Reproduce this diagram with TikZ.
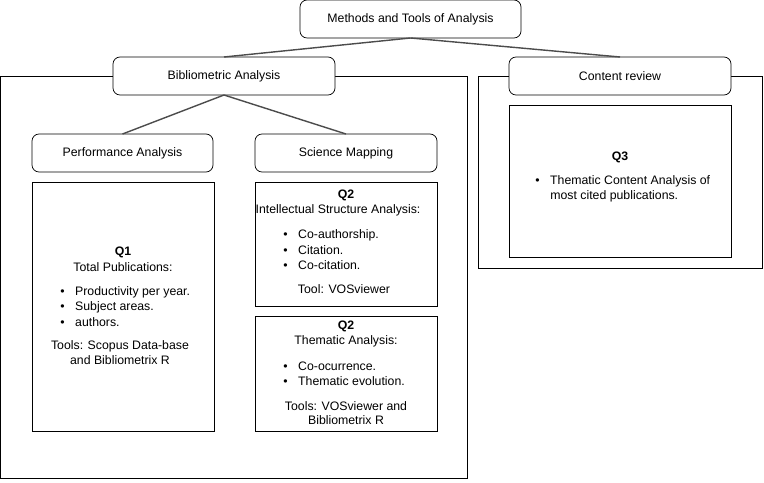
\documentclass[tikz,border=0pt]{standalone}
\usepackage{fontspec}
\setmainfont{Liberation Sans}
\begin{document}
\begin{tikzpicture}[x=0.02cm,y=-0.02cm,
  every node/.style={font=\fontsize{7}{8.5}\selectfont,inner sep=0pt},
  head/.style={draw,rounded corners=4pt},
  txt/.style={anchor=center},
  itm/.style={anchor=west},
  link/.style={draw,thick,black!70}]
\useasboundingbox (0,0) rectangle (764,483);
% outer frames
\draw (0,76) rectangle (467,478);
\draw (478,76) rectangle (762,268);
% headings
\draw[head,fill=white] (300,0) rectangle (521,38);
\node (top) at (410.5,19) {Methods and Tools of Analysis};
\draw[head,fill=white] (113,57) rectangle (335,95);
\node (biblio) at (224,76) {Bibliometric Analysis};
\draw[head,fill=white] (509,57) rectangle (731,95);
\node (content) at (620,76) {Content review};
\draw[head] (32,134) rectangle (213,172);
\node (perf) at (122.5,153) {Performance Analysis};
\draw[head] (255,134) rectangle (437,172);
\node (science) at (346,153) {Science Mapping};
% connectors
\coordinate (topS) at (410.5,38);
\coordinate (biblioN) at (224,57);
\coordinate (contentN) at (620,57);
\coordinate (biblioS) at (224,95);
\coordinate (perfN) at (122.5,134);
\coordinate (scienceN) at (346,134);
\draw[link] (topS) -- (biblioN);
\draw[link] (topS) -- (contentN);
\draw[link] (biblioS) -- (perfN);
\draw[link] (biblioS) -- (scienceN);
% content boxes
\draw (32,182) rectangle (214,431);
\draw (255,182) rectangle (437,306);
\draw (255,316) rectangle (437,431);
\draw (509,105) rectangle (731,257);
% Q1
\node[txt] (q1) at (123,252) {\textbf{Q1}};
\node[txt] (q1t) at (123,267) {Total Publications:};
\foreach \y/\t [count=\i] in {292/Productivity per year., 307/Subject areas., 322/authors.}
  \node[itm] (q1i\i) at (60,\y) {\textbullet\hspace{6pt}\t};
\node[txt] (q1a) at (120,346) {Tools: Scopus Data-base};
\node[txt] (q1b) at (120,360) {and Bibliometrix R};
% Q2 (intellectual)
\node[txt] (q2) at (346,195) {\textbf{Q2}};
\node[txt] (q2t) at (338,210) {Intellectual Structure Analysis:};
\foreach \y/\t [count=\i] in {235/Co-authorship., 250/Citation., 265/Co-citation.}
  \node[itm] (q2i\i) at (283,\y) {\textbullet\hspace{6pt}\t};
\node[txt] (q2a) at (344,289) {Tool: VOSviewer};
% Q2 (thematic)
\node[txt] (q2b) at (346,326) {\textbf{Q2}};
\node[txt] (q2bt) at (346,341) {Thematic Analysis:};
\foreach \y/\t [count=\i] in {366/Co-ocurrence., 381/Thematic evolution.}
  \node[itm] (q2bi\i) at (283,\y) {\textbullet\hspace{6pt}\t};
\node[txt] (q2bc) at (346,406) {Tools: VOSviewer and};
\node[txt] (q2bd) at (346,420) {Bibliometrix R};
% Q3
\node[txt] (q3) at (620,157) {\textbf{Q3}};
\node[itm] (q3i) at (535,181) {\textbullet\hspace{6pt}Thematic Content Analysis of};
\node[itm] (q3j) at (550,196) {most cited publications.};
\end{tikzpicture}
\end{document}
